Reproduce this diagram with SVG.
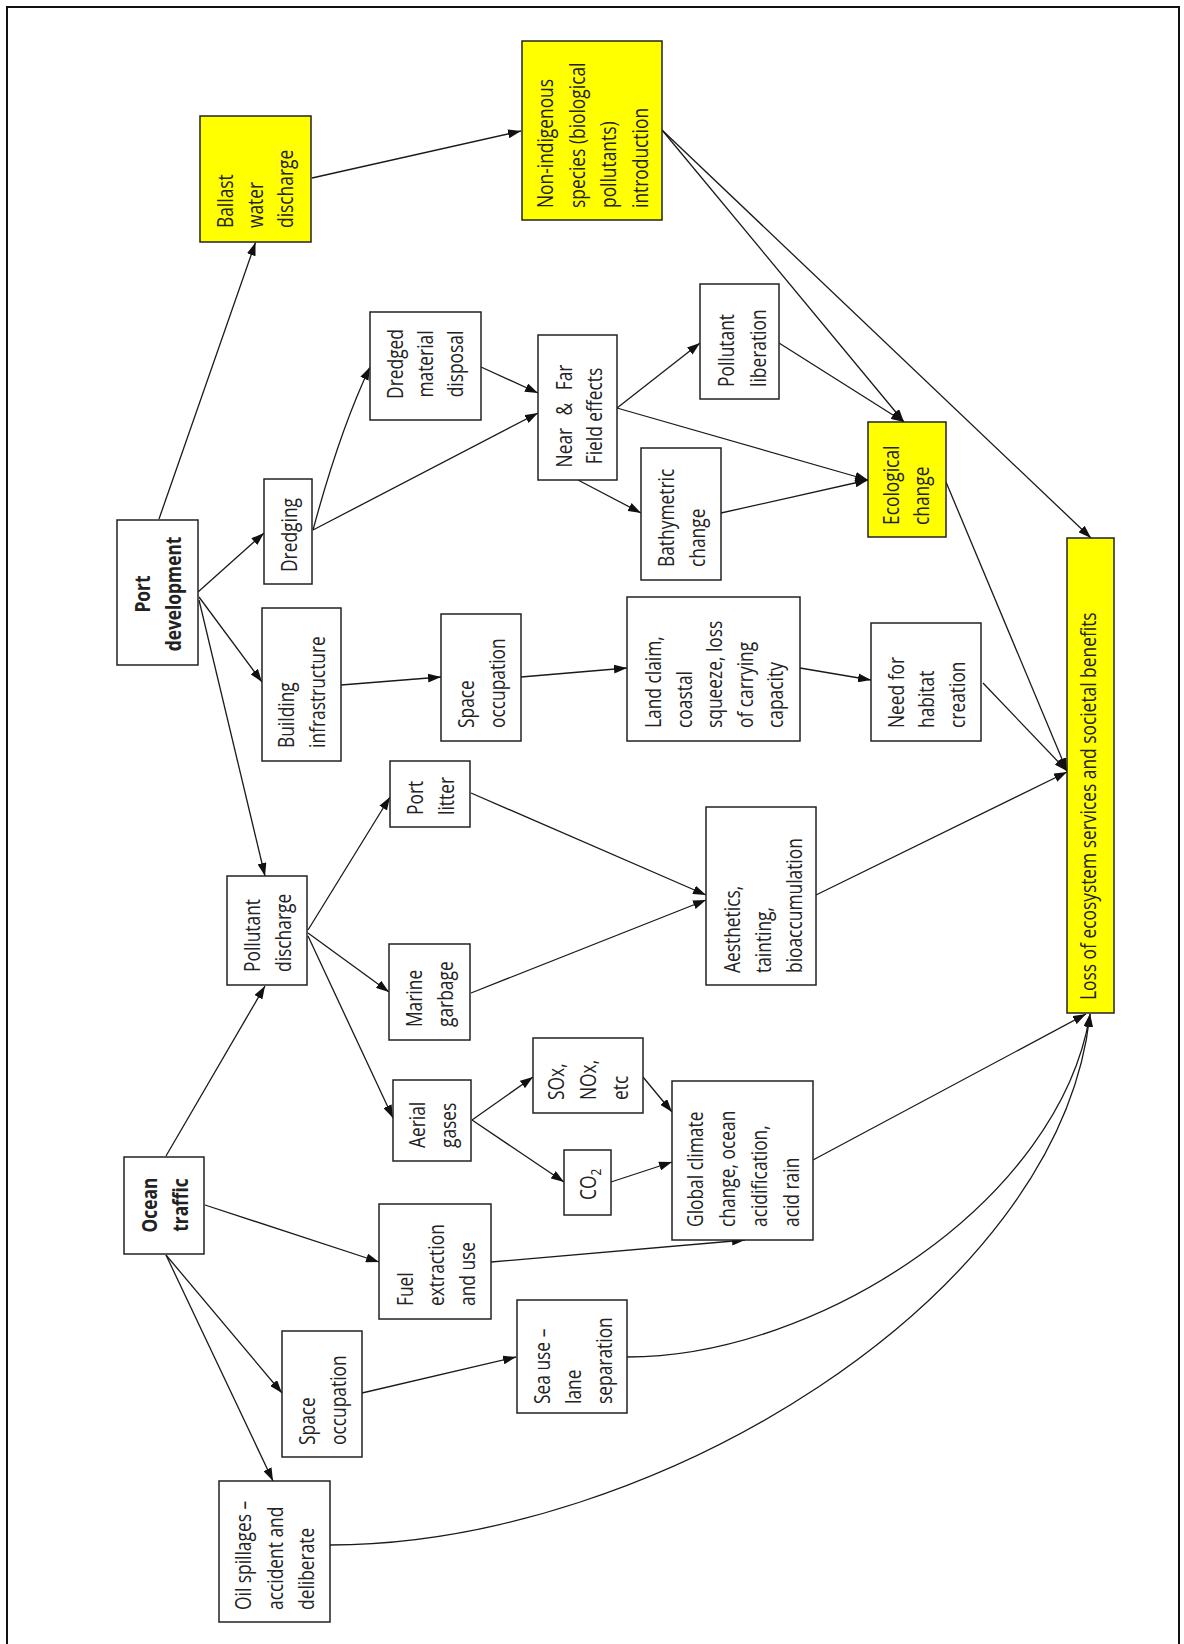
<svg xmlns="http://www.w3.org/2000/svg" width="1184" height="1644" viewBox="0 0 1184 1644">
<style>
.node rect{fill:#fff;stroke:#222;stroke-width:1.5}
.y rect{fill:#ffff00}
text{font-family:"Open Sans","Noto Sans",sans-serif;font-size:22px;fill:#222}
.b text{font-weight:bold}
.m{text-anchor:middle}
#connectors line,#connectors path{stroke:#1a1a1a;stroke-width:1.3;fill:none;marker-end:url(#arr)}
</style>
<defs>
<marker id="arr" viewBox="0 0 13 9" refX="13" refY="4.5" markerWidth="13" markerHeight="9" markerUnits="userSpaceOnUse" orient="auto"><path d="M0,0 L13,4.5 L0,9 z" fill="#111"/></marker>
</defs>
<rect width="1184" height="1644" fill="#fff"/>
<path d="M7,1650 V7 H1179 V1650" fill="none" stroke="#111" stroke-width="2"/>

<g id="connectors">
<line x1="159" y1="519" x2="255.5" y2="242.5"/>
<line x1="312" y1="178" x2="521" y2="131"/>
<line x1="198" y1="592" x2="264" y2="533"/>
<line x1="199" y1="597" x2="262" y2="682"/>
<line x1="199" y1="600" x2="265" y2="876"/>
<path d="M313,530 Q340,430 370,367"/>
<line x1="313" y1="530" x2="538" y2="413"/>
<line x1="481" y1="367" x2="538" y2="393"/>
<line x1="617" y1="408" x2="700" y2="343"/>
<line x1="617" y1="408" x2="868" y2="480"/>
<line x1="578" y1="480" x2="641" y2="513"/>
<line x1="721" y1="513" x2="868" y2="480"/>
<line x1="779" y1="343" x2="904" y2="422"/>
<line x1="662" y1="130" x2="904" y2="422"/>
<line x1="662" y1="130" x2="1091" y2="538"/>
<line x1="946" y1="482" x2="1067" y2="771"/>
<line x1="341" y1="685" x2="441" y2="677"/>
<line x1="521" y1="677" x2="627" y2="668"/>
<line x1="800" y1="668" x2="871" y2="680"/>
<line x1="983" y1="683" x2="1067" y2="771"/>
<line x1="816" y1="895" x2="1067" y2="772"/>
<line x1="308" y1="930" x2="390" y2="797"/>
<line x1="308" y1="933" x2="389" y2="992"/>
<line x1="308" y1="936" x2="393" y2="1118"/>
<line x1="471" y1="793" x2="706" y2="895"/>
<line x1="471" y1="993" x2="706" y2="900"/>
<line x1="472" y1="1120" x2="533" y2="1077"/>
<line x1="472" y1="1120" x2="564" y2="1182"/>
<line x1="643" y1="1077" x2="672" y2="1112"/>
<line x1="611" y1="1182" x2="672" y2="1162"/>
<line x1="813" y1="1160" x2="1086" y2="1014"/>
<line x1="166" y1="1156" x2="265" y2="986"/>
<line x1="205" y1="1205" x2="379" y2="1262"/>
<line x1="491" y1="1262" x2="745" y2="1240"/>
<line x1="166" y1="1255" x2="282" y2="1393"/>
<line x1="166" y1="1255" x2="273" y2="1481"/>
<line x1="362" y1="1393" x2="516" y2="1357"/>
<path d="M627,1357 C820,1357 1060,1200 1090,1014"/>
<path d="M330,1545 C650,1545 1060,1300 1090,1014"/>
</g>

<g id="ballast" class="node y"><rect x="200" y="116" width="111" height="126"/>
<text transform="translate(233,228) rotate(-90) scale(0.79,1)">Ballast</text>
<text transform="translate(263,228) rotate(-90) scale(0.79,1)">water</text>
<text transform="translate(293,228) rotate(-90) scale(0.79,1)">discharge</text></g>

<g id="nonindigenous" class="node y"><rect x="522" y="41" width="140" height="179"/>
<text transform="translate(553,208) rotate(-90) scale(0.79,1)">Non-indigenous</text>
<text transform="translate(585,208) rotate(-90) scale(0.79,1)">species (biological</text>
<text transform="translate(616,208) rotate(-90) scale(0.79,1)">pollutants)</text>
<text transform="translate(648,208) rotate(-90) scale(0.79,1)">introduction</text></g>

<g id="dredged" class="node"><rect x="370" y="312" width="111" height="108"/>
<text class="m" transform="translate(403,364) rotate(-90) scale(0.79,1)">Dredged</text>
<text class="m" transform="translate(433,364) rotate(-90) scale(0.79,1)">material</text>
<text class="m" transform="translate(463,364) rotate(-90) scale(0.79,1)">disposal</text></g>

<g id="nearfar" class="node"><rect x="538" y="335" width="79" height="145"/>
<text class="m" transform="translate(572,416) rotate(-90) scale(0.79,1)" word-spacing="10">Near &amp; Far</text>
<text class="m" transform="translate(602,416) rotate(-90) scale(0.79,1)">Field effects</text></g>

<g id="pollutantliberation" class="node"><rect x="700" y="284" width="79" height="115"/>
<text transform="translate(734,387) rotate(-90) scale(0.79,1)">Pollutant</text>
<text transform="translate(766,387) rotate(-90) scale(0.79,1)">liberation</text></g>

<g id="bathymetric" class="node"><rect x="641" y="448" width="80" height="132"/>
<text transform="translate(674,567) rotate(-90) scale(0.79,1)">Bathymetric</text>
<text transform="translate(705,567) rotate(-90) scale(0.79,1)">change</text></g>

<g id="ecological" class="node y"><rect x="868" y="422" width="78" height="115"/>
<text transform="translate(899,525) rotate(-90) scale(0.79,1)">Ecological</text>
<text transform="translate(929,525) rotate(-90) scale(0.79,1)">change</text></g>

<g id="portdevelopment" class="node b"><rect x="117" y="520" width="81" height="145"/>
<text class="m" transform="translate(150,594) rotate(-90) scale(0.79,1)">Port</text>
<text class="m" transform="translate(181,594) rotate(-90) scale(0.79,1)">development</text></g>

<g id="dredging" class="node"><rect x="264" y="479" width="48" height="105"/>
<text transform="translate(297,572) rotate(-90) scale(0.79,1)">Dredging</text></g>

<g id="building" class="node"><rect x="262" y="608" width="79" height="153"/>
<text transform="translate(294,748) rotate(-90) scale(0.79,1)">Building</text>
<text transform="translate(325,748) rotate(-90) scale(0.79,1)">infrastructure</text></g>

<g id="spaceoccupation1" class="node"><rect x="441" y="614" width="80" height="127"/>
<text transform="translate(474,728) rotate(-90) scale(0.79,1)">Space</text>
<text transform="translate(505,728) rotate(-90) scale(0.79,1)">occupation</text></g>

<g id="landclaim" class="node"><rect x="627" y="597" width="173" height="144"/>
<text transform="translate(661,728) rotate(-90) scale(0.79,1)">Land claim,</text>
<text transform="translate(691.5,728) rotate(-90) scale(0.79,1)">coastal</text>
<text transform="translate(722,728) rotate(-90) scale(0.79,1)">squeeze, loss</text>
<text transform="translate(752.5,728) rotate(-90) scale(0.79,1)">of carrying</text>
<text transform="translate(783,728) rotate(-90) scale(0.79,1)">capacity</text></g>

<g id="needhabitat" class="node"><rect x="871" y="623" width="110" height="118"/>
<text transform="translate(903.5,728) rotate(-90) scale(0.79,1)">Need for</text>
<text transform="translate(934,728) rotate(-90) scale(0.79,1)">habitat</text>
<text transform="translate(964.5,728) rotate(-90) scale(0.79,1)">creation</text></g>

<g id="loss" class="node y"><rect x="1067" y="538" width="47" height="475"/>
<text transform="translate(1096,1000) rotate(-90) scale(0.79,1)">Loss of ecosystem services and societal benefits</text></g>

<g id="pollutantdischarge" class="node"><rect x="227" y="876" width="80" height="109"/>
<text transform="translate(260,972) rotate(-90) scale(0.79,1)">Pollutant</text>
<text transform="translate(291,972) rotate(-90) scale(0.79,1)">discharge</text></g>

<g id="portlitter" class="node"><rect x="390" y="761" width="80" height="66"/>
<text transform="translate(423,815) rotate(-90) scale(0.79,1)">Port</text>
<text transform="translate(454,815) rotate(-90) scale(0.79,1)">litter</text></g>

<g id="marinegarbage" class="node"><rect x="389" y="944" width="81" height="96"/>
<text transform="translate(422,1027) rotate(-90) scale(0.79,1)">Marine</text>
<text transform="translate(453,1027) rotate(-90) scale(0.79,1)">garbage</text></g>

<g id="aesthetics" class="node"><rect x="706" y="807" width="110" height="178"/>
<text transform="translate(740,973) rotate(-90) scale(0.79,1)">Aesthetics,</text>
<text transform="translate(771,973) rotate(-90) scale(0.79,1)">tainting,</text>
<text transform="translate(802,973) rotate(-90) scale(0.79,1)">bioaccumulation</text></g>

<g id="aerialgases" class="node"><rect x="393" y="1080" width="78" height="81"/>
<text transform="translate(424.5,1148) rotate(-90) scale(0.79,1)">Aerial</text>
<text transform="translate(455.5,1148) rotate(-90) scale(0.79,1)">gases</text></g>

<g id="sox" class="node"><rect x="533" y="1038" width="110" height="75"/>
<text transform="translate(564,1100) rotate(-90) scale(0.79,1)">SOx,</text>
<text transform="translate(596,1100) rotate(-90) scale(0.79,1)">NOx,</text>
<text transform="translate(628,1100) rotate(-90) scale(0.79,1)">etc</text></g>

<g id="co2" class="node"><rect x="564" y="1150" width="47" height="65"/>
<text transform="translate(596,1200) rotate(-90) scale(0.79,1)">CO<tspan font-size="15" dy="5">2</tspan></text></g>

<g id="globalclimate" class="node"><rect x="672" y="1081" width="141" height="159"/>
<text transform="translate(703,1227) rotate(-90) scale(0.79,1)">Global climate</text>
<text transform="translate(735,1227) rotate(-90) scale(0.79,1)">change, ocean</text>
<text transform="translate(767,1227) rotate(-90) scale(0.79,1)">acidification,</text>
<text transform="translate(799,1227) rotate(-90) scale(0.79,1)">acid rain</text></g>

<g id="oceantraffic" class="node b"><rect x="124" y="1157" width="80" height="97"/>
<text class="m" transform="translate(157,1205) rotate(-90) scale(0.79,1)">Ocean</text>
<text class="m" transform="translate(188,1205) rotate(-90) scale(0.79,1)">traffic</text></g>

<g id="fuel" class="node"><rect x="379" y="1204" width="112" height="115"/>
<text transform="translate(413,1306) rotate(-90) scale(0.79,1)">Fuel</text>
<text transform="translate(444,1306) rotate(-90) scale(0.79,1)">extraction</text>
<text transform="translate(475,1306) rotate(-90) scale(0.79,1)">and use</text></g>

<g id="spaceoccupation2" class="node"><rect x="282" y="1331" width="80" height="126"/>
<text transform="translate(314.5,1445) rotate(-90) scale(0.79,1)">Space</text>
<text transform="translate(345.5,1445) rotate(-90) scale(0.79,1)">occupation</text></g>

<g id="seause" class="node"><rect x="517" y="1300" width="110" height="113"/>
<text transform="translate(550,1404) rotate(-90) scale(0.79,1)">Sea use –</text>
<text transform="translate(581,1404) rotate(-90) scale(0.79,1)">lane</text>
<text transform="translate(612,1404) rotate(-90) scale(0.79,1)">separation</text></g>

<g id="oilspillages" class="node"><rect x="219" y="1481" width="111" height="141"/>
<text transform="translate(251,1610) rotate(-90) scale(0.79,1)">Oil spillages –</text>
<text transform="translate(283,1610) rotate(-90) scale(0.79,1)">accident and</text>
<text transform="translate(314,1610) rotate(-90) scale(0.79,1)">deliberate</text></g>
</svg>
